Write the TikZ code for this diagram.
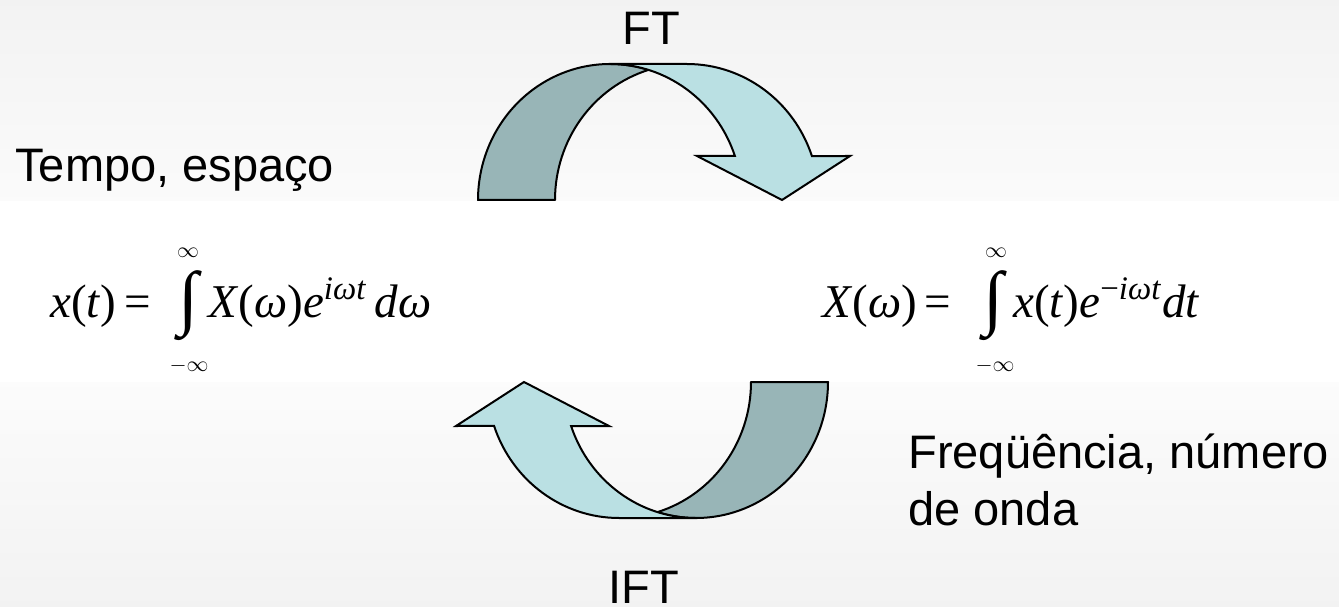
\documentclass[tikz,border=0pt]{standalone}
\usepackage{fontspec}
\usepackage{graphicx}
\setmainfont{Liberation Serif}
\newfontfamily\arialf{Liberation Sans}
\definecolor{arrowdark}{RGB}{152,181,183}
\definecolor{arrowlight}{RGB}{186,224,227}
\newcommand\curvedarrowshape{%
  \draw[darkband] (478,406)
    arc[start angle=180,end angle=73.04,x radius=66pt,y radius=68pt]
    arc[start angle=106.96,end angle=180,x radius=66pt,y radius=68pt] -- cycle;
  \draw[lightband] (610,542) -- (687,542)
    arc[start angle=90,end angle=18.87,x radius=66pt,y radius=68pt]
    -- (850,450) -- (782,406) -- (697,450) -- (734.9,450)
    arc[start angle=18.87,end angle=90,x radius=66pt,y radius=68pt] -- cycle;
}
\newcommand\bigintsign{\resizebox*{10pt}{35pt}{∫}}
\begin{document}
\begin{tikzpicture}[x=0.5pt,y=0.5pt,
  lbl/.style={font=\arialf\fontsize{23.5}{28}\selectfont, inner sep=0pt, anchor=base west},
  eq/.style={font=\fontsize{23.5}{28}\selectfont, inner sep=0pt, anchor=base west},
  lim/.style={font=\fontsize{11}{13}\selectfont, inner sep=0pt},
  intsign/.style={font=\fontsize{23.5}{28}\selectfont, inner sep=0pt},
  darkband/.style={fill=arrowdark, draw=black, line width=1pt, line join=round},
  lightband/.style={fill=arrowlight, draw=black, line width=1pt, line join=miter},
]
\useasboundingbox (0,0) rectangle (1339,606);
\shade[top color=black!5, bottom color=white] (0,606) rectangle (1339,303);
\shade[top color=white, bottom color=black!5] (0,303) rectangle (1339,0);
\fill[white] (0,405) rectangle (1339,224);

% top arrow (FT)
\curvedarrowshape
% bottom arrow (IFT)
\begin{scope}[rotate around={180:(653,315)}]
\curvedarrowshape
\end{scope}

% labels
\node[lbl] (ft) at (622,561) {FT};
\node[lbl] (ift) at (608,3) {IFT};
\node[lbl] (tempo) at (15,424) {Tempo, espaço};
\node[lbl] (freq) at (908,138) {Freqüência, número};
\node[lbl] (onda) at (908,81) {de onda};

% left formula
\node[eq] (xl) at (50,288) {\textit{x}(\textit{t})\,=};
\node[intsign] (intl) at (188,300) {\bigintsign};
\node[lim] (infl) at (188,353) {$\infty$};
\node[lim] (minfl) at (189,240) {$-\infty$};
\node[eq] (rl) at (208,288) {\textit{X}(\textit{ω})\textit{e}\textsuperscript{\textit{iωt}}\,\textit{dω}};

% right formula
\node[eq] (xr) at (822,288) {\textit{X}(\textit{ω})\,=};
\node[intsign] (intr) at (993,300) {\bigintsign};
\node[lim] (infr) at (996,353) {$\infty$};
\node[lim] (minfr) at (995,240) {$-\infty$};
\node[eq] (rr) at (1013,288) {\textit{x}(\textit{t})\textit{e}\textsuperscript{−\textit{iωt}}\textit{dt}};
\end{tikzpicture}
\end{document}
